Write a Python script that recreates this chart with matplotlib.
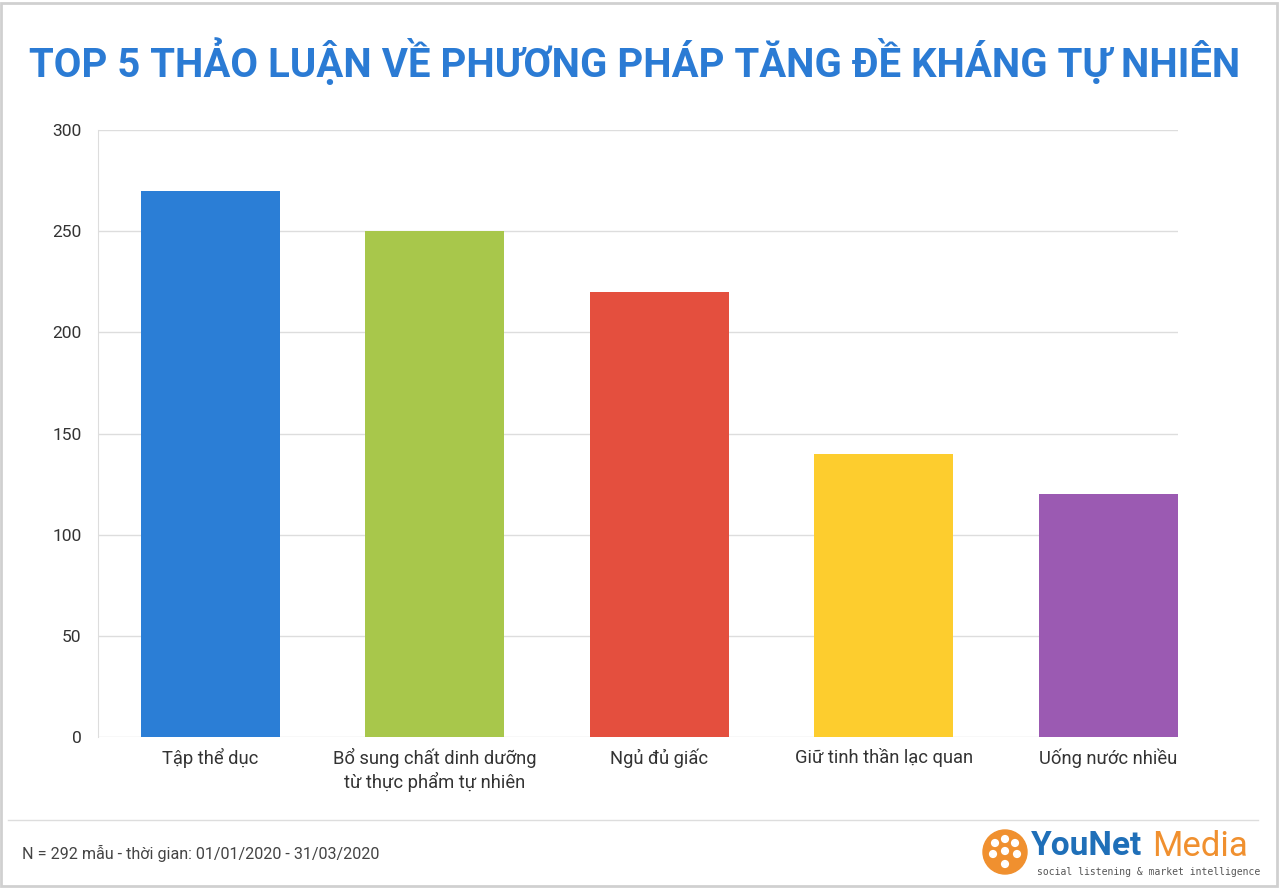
import matplotlib
matplotlib.use("Agg")
import matplotlib.pyplot as plt
from matplotlib.patches import Rectangle, Ellipse

plt.rcParams['font.family'] = ['Roboto', 'DejaVu Sans']

# data
categories = ['Tập thể dục', 'Bổ sung chất dinh dưỡng\ntừ thực phẩm tự nhiên',
              'Ngủ đủ giấc', 'Giữ tinh thần lạc quan', 'Uống nước nhiều']
values = [270, 250, 220, 140, 120]
colors = ['#2B7ED6', '#A8C74B', '#E44F3E', '#FDCD2E', '#9B5AB2']
yticks = [0, 50, 100, 150, 200, 250, 300]

title = 'TOP 5 THẢO LUẬN VỀ PHƯƠNG PHÁP TĂNG ĐỀ KHÁNG TỰ NHIÊN'
note = 'N = 292 mẫu - thời gian: 01/01/2020 - 31/03/2020'

W, H = 1280, 888
fig = plt.figure(figsize=(W / 100, H / 100), dpi=100)

# axes placed in pixel coordinates of the reference
left, right, top, bottom = 98, 1178, 130, 737
ax = fig.add_axes([left / W, 1 - bottom / H, (right - left) / W, (bottom - top) / H])

x = range(len(values))
ax.bar(x, values, width=0.62, color=colors, zorder=3)
ax.set_xlim(-0.5, len(values) - 1 + 0.31)
ax.set_ylim(0, 300)
ax.set_yticks(yticks)
ax.set_yticklabels([str(t) for t in yticks], fontsize=12.5, color='#333333')
ax.set_xticks(list(x))
ax.set_xticklabels(categories, fontsize=13.2, color='#333333', linespacing=1.25)
ax.tick_params(axis='both', length=0)
ax.tick_params(axis='y', pad=12)
ax.tick_params(axis='x', pad=8)
ax.grid(axis='y', color='#DDDDDD', linewidth=1, zorder=0)
for s in ['top', 'right', 'bottom']:
    ax.spines[s].set_visible(False)
ax.spines['left'].set_color('#DDDDDD')
ax.spines['left'].set_zorder(0)

# title
fig.text(635 / W, 1 - 61 / H, title, ha='center', va='center', fontsize=28.9,
         fontweight='bold', color='#2B7BD4')

# footer rule and note
fig.add_artist(plt.Line2D([8 / W, 1258 / W], [1 - 820 / H, 1 - 820 / H],
                          color='#DDDDDD', linewidth=1))
fig.text(22 / W, 1 - 853 / H, note, ha='left', va='center', fontsize=11.6, color='#444444')


def px_ellipse(cx, cy, r, color):
    return Ellipse((cx / W, 1 - cy / H), 2 * r / W, 2 * r / H, color=color,
                   transform=fig.transFigure)


# logo
cx, cy = 1005, 852
fig.add_artist(px_ellipse(cx, cy, 22, '#F0902F'))
for dx, dy in [(-10, -9), (0, -13), (10, -9), (-12, 2), (12, 2), (0, -1), (0, 12)]:
    fig.add_artist(px_ellipse(cx + dx, cy + dy, 3.4, 'white'))
fig.text(1031 / W, 1 - 846 / H, 'YouNet', ha='left', va='center', fontsize=24,
         fontweight='bold', color='#1F6FB8')
fig.text(1152 / W, 1 - 846 / H, 'Media', ha='left', va='center', fontsize=25,
         color='#F0902F')
fig.text(1037 / W, 1 - 872 / H, 'social listening & market intelligence', ha='left',
         va='center', fontsize=7, color='#555555', family='DejaVu Sans Mono')

# light frame around the picture
fig.add_artist(Rectangle((0.001, 0.002), 0.997, 0.995, fill=False, edgecolor='#D0D0D0',
                         linewidth=2, transform=fig.transFigure))

fig.savefig('out.png', dpi=100, facecolor='white')
